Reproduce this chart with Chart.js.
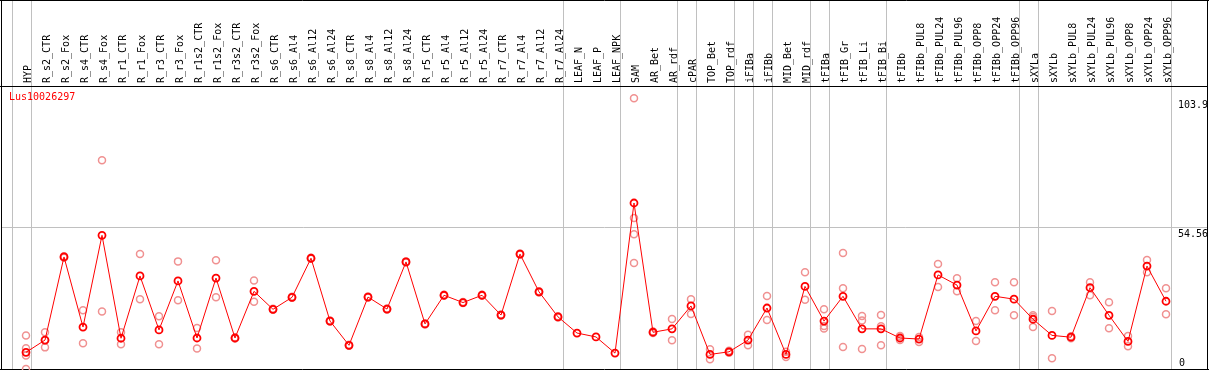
<!DOCTYPE html>
<html>
<head>
<meta charset="utf-8">
<script src="https://cdn.jsdelivr.net/npm/chart.js@4/dist/chart.umd.min.js"></script>
<style>
  html, body { margin: 0; padding: 0; background: #fff; }
  #wrap { width: 1209px; height: 370px; }
</style>
</head>
<body>
<div id="wrap"><canvas id="myChart" width="1209" height="370"></canvas></div>
<script>
const geneName = "Lus10026297";

const categories = [
  "HYP", "R_s2_CTR", "R_s2_Fox", "R_s4_CTR", "R_s4_Fox", "R_r1_CTR", "R_r1_Fox", "R_r3_CTR", "R_r3_Fox",
  "R_r1s2_CTR", "R_r1s2_Fox", "R_r3s2_CTR", "R_r3s2_Fox", "R_s6_CTR", "R_s6_Al4", "R_s6_Al12", "R_s6_Al24",
  "R_s8_CTR", "R_s8_Al4", "R_s8_Al12", "R_s8_Al24", "R_r5_CTR", "R_r5_Al4", "R_r5_Al12", "R_r5_Al24",
  "R_r7_CTR", "R_r7_Al4", "R_r7_Al12", "R_r7_Al24", "LEAF_N", "LEAF_P", "LEAF_NPK", "SAM", "AR_Bet", "AR_rdf",
  "cPAR", "TOP_Bet", "TOP_rdf", "iFIBa", "iFIBb", "MID_Bet", "MID_rdf", "tFIBa", "tFIB_Gr", "tFIB_Li", "tFIB_Bi",
  "tFIBb", "tFIBb_PUL8", "tFIBb_PUL24", "tFIBb_PUL96", "tFIBb_OPP8", "tFIBb_OPP24", "tFIBb_OPP96",
  "sXYLa", "sXYLb", "sXYLb_PUL8", "sXYLb_PUL24", "sXYLb_PUL96", "sXYLb_OPP8", "sXYLb_OPP24", "sXYLb_OPP96"
];

// mean expression per sample
const meanValues = [
  6.4, 11.1, 43.0, 16.1, 51.3, 11.8, 35.7, 15.0, 33.8,
  11.9, 34.9, 11.9, 29.8, 22.9, 27.5, 42.5, 18.4,
  9.1, 27.6, 23.0, 41.1, 17.3, 28.3, 25.5, 28.3,
  20.7, 44.1, 29.6, 20.0, 13.8, 12.3, 6.1, 63.7, 14.1, 15.4,
  24.2, 5.6, 6.6, 11.1, 23.4, 5.6, 31.7, 18.4, 27.9, 15.4, 15.4,
  11.9, 11.5, 36.1, 32.2, 14.6, 27.9, 26.8,
  19.1, 12.9, 12.2, 31.2, 20.6, 10.6, 39.5, 26.0
];

// individual replicates (null = no replicate)
const rep1 = [
  12.9, 14.1, 43.3, 22.5, 80.1, 14.1, 44.1, 20.2, 41.3,
  15.7, 41.7, 12.1, 34.0, 23.1, 27.7, 42.7, 18.6,
  9.3, 27.8, 23.2, 41.3, 17.5, 28.5, 25.7, 28.5,
  20.9, 44.3, 29.8, 20.2, null, null, null, 103.9, 14.4, 19.2,
  26.8, 7.6, 7.0, 13.1, 28.0, 6.6, 37.1, 22.9, 44.5, 20.3, 20.7,
  12.7, 12.3, 40.3, 34.8, 18.4, 33.3, 33.3,
  20.6, 22.3, 12.6, 33.3, 25.6, 12.7, 41.8, 31.0
];
const rep2 = [
  8.0, 8.3, 42.7, 9.9, 22.1, 9.5, 26.8, 9.5, 26.4,
  7.9, 27.5, 11.7, 25.8, 22.7, 27.3, 42.3, 18.2,
  8.9, 27.4, 22.8, 40.9, 17.1, 28.1, 25.3, 28.1,
  20.5, 43.9, 29.4, 19.8, null, null, null, 57.9, 13.8, 11.0,
  21.1, 3.7, 6.2, 9.1, 18.8, 4.6, 26.6, 16.5, 31.0, 18.6, 16.4,
  11.1, 10.4, 31.5, 29.8, 10.7, 22.5, 20.6,
  20.0, 4.1, 11.8, 28.3, 15.6, 8.7, 37.1, 21.0
];
const rep3 = [
  5.2, 11.0, null, null, null, null, null, null, null,
  null, null, null, null, null, null, null, null,
  null, null, null, null, null, null, null, null,
  null, null, null, null, null, null, null, 51.7, null, null,
  null, null, null, null, null, null, null, 15.5, 8.4, 7.7, 9.1,
  null, null, null, null, null, null, null,
  16.1, null, null, null, null, null, null, null
];
const rep4 = [
  0.0, null, null, null, null, null, null, null, null,
  null, null, null, null, null, null, null, null,
  null, null, null, null, null, null, null, null,
  null, null, null, null, null, null, null, 40.7, null, null,
  null, null, null, null, null, null, null, null, null, null, null,
  null, null, null, null, null, null, null,
  null, null, null, null, null, null, null, null
];

const yTicks = [0, 54.56, 103.9];
// index of the first sample of each group (last entry closes the chart)
const groupStarts = [0, 1, 29, 32, 35, 36, 38, 39, 40, 42, 43, 46, 53, 54, 61];

const monoFont = "'DejaVu Sans Mono', 'Liberation Mono', monospace";
const repColor = "rgb(240, 145, 145)";

function repDataset(values) {
  return {
    data: values,
    showLine: false,
    borderColor: repColor,
    backgroundColor: "rgba(0,0,0,0)",
    pointRadius: 3.5,
    pointBorderWidth: 1.5,
    pointHoverRadius: 3.5,
    order: 2,
    clip: false
  };
}

// frame, group lines, title and y labels
const decorations = {
  id: "decorations",
  beforeDatasetsDraw(chart) {
    const ctx = chart.ctx;
    const x = chart.scales.x;
    const y = chart.scales.y;
    ctx.save();
    ctx.strokeStyle = "#c0c0c0";
    ctx.lineWidth = 1;
    // horizontal line at the middle tick
    const gy = Math.round(y.getPixelForValue(yTicks[1])) + 0.5;
    ctx.beginPath();
    ctx.moveTo(2, gy);
    ctx.lineTo(1207, gy);
    ctx.stroke();
    // group separators
    groupStarts.forEach(i => {
      const px = Math.round(x.getPixelForValue(i - 0.76)) + 0.5;
      ctx.beginPath();
      ctx.moveTo(px, 0);
      ctx.lineTo(px, 369);
      ctx.stroke();
    });
    // frame
    ctx.strokeStyle = "#000";
    ctx.beginPath();
    ctx.moveTo(0, 0.5); ctx.lineTo(1209, 0.5);
    ctx.moveTo(0, 86.5); ctx.lineTo(1208, 86.5);
    ctx.moveTo(0, 369.5); ctx.lineTo(1209, 369.5);
    ctx.moveTo(1.5, 0); ctx.lineTo(1.5, 370);
    ctx.moveTo(1207.5, 0); ctx.lineTo(1207.5, 370);
    ctx.stroke();
    // title
    ctx.fillStyle = "#ff0000";
    ctx.font = "10px " + monoFont;
    ctx.textBaseline = "middle";
    ctx.textAlign = "left";
    ctx.fillText(geneName, 9, 97);
    // y tick labels
    ctx.fillStyle = "#000";
    yTicks.forEach(v => {
      const py = y.getPixelForValue(v);
      if (v === 0) {
        ctx.textBaseline = "bottom";
        ctx.fillText(String(v), 1179, py - 1);
      } else {
        ctx.textBaseline = "top";
        ctx.fillText(String(v), 1178, py + 2.5);
      }
    });
    ctx.restore();
  }
};

new Chart("myChart", {
  type: "line",
  data: {
    labels: categories,
    datasets: [
      {
        data: meanValues,
        borderColor: "#ff0000",
        borderWidth: 1,
        backgroundColor: "rgba(0,0,0,0)",
        pointBorderColor: "#ff0000",
        pointRadius: 3.5,
        pointBorderWidth: 1.8,
        pointHoverRadius: 3.5,
        tension: 0,
        order: 1,
        clip: false
      },
      repDataset(rep1),
      repDataset(rep2),
      repDataset(rep3),
      repDataset(rep4)
    ]
  },
  options: {
    responsive: false,
    animation: false,
    events: [],
    layout: {
      autoPadding: false,
      padding: { left: 16.5, right: 0, top: 0, bottom: 1 }
    },
    plugins: {
      legend: { display: false },
      tooltip: { enabled: false },
      title: { display: false }
    },
    scales: {
      x: {
        type: "category",
        position: "top",
        offset: true,
        grid: { display: false, drawTicks: false },
        border: { display: false },
        ticks: {
          autoSkip: false,
          maxRotation: 90,
          minRotation: 90,
          padding: 3,
          labelOffset: 14,
          color: "#000",
          font: { family: monoFont, size: 10 }
        },
        afterFit(scale) { scale.height = 86; }
      },
      y: {
        position: "right",
        min: 0,
        max: 108.6,
        grid: { display: false, drawTicks: false },
        border: { display: false },
        ticks: { display: false },
        afterBuildTicks(scale) { scale.ticks = yTicks.map(v => ({ value: v })); },
        afterFit(scale) { scale.width = 33.5; }
      }
    }
  },
  plugins: [decorations]
});
</script>
</body>
</html>
